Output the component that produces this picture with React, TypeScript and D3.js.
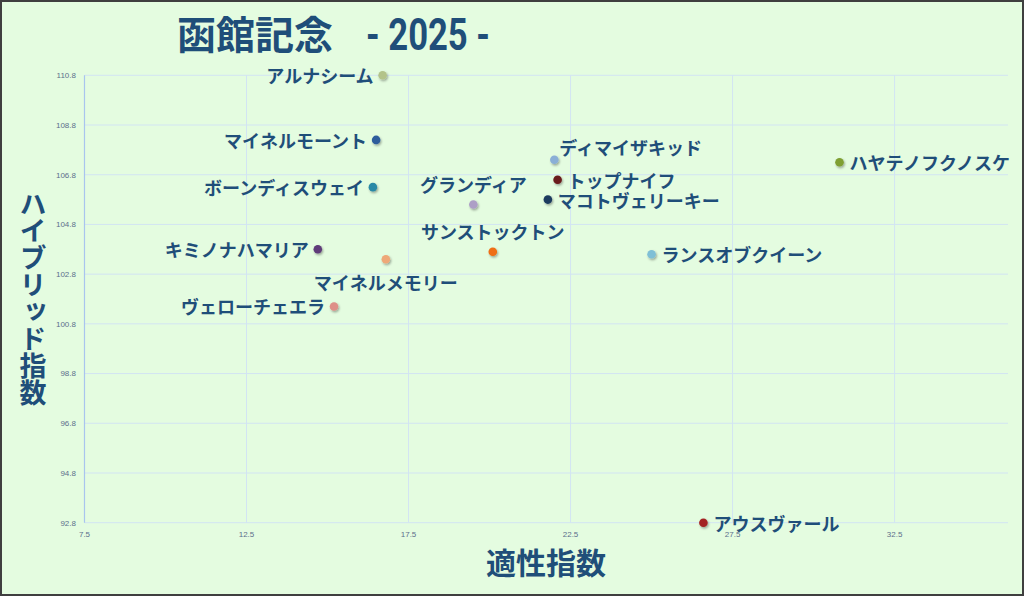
import React from 'react';
import * as d3 from 'd3';

const W = 1024;
const H = 596;

// horses: [name, 適性指数, ハイブリッド指数]
const names = [
    'アルナシーム',
    'マイネルモーント',
    'ボーンディスウェイ',
    'キミノナハマリア',
    'マイネルメモリー',
    'ヴェローチェエラ',
    'グランディア',
    'サンストックトン',
    'ディマイザキッド',
    'トップナイフ',
    'マコトヴェリーキー',
    'ランスオブクイーン',
    'ハヤテノフクノスケ',
    'アウスヴァール',
];
const aptitude = [16.7, 16.5, 16.4, 14.7, 16.8, 15.2, 19.5, 20.1, 22.0, 22.1, 21.8, 25.0, 30.8, 26.6];
const hybrid = [110.8, 108.2, 106.3, 103.8, 103.4, 101.5, 105.6, 103.7, 107.4, 106.6, 105.8, 103.6, 107.3, 92.8];
const dotColors = [
    '#b3c38a',
    '#2d5d9c',
    '#2b89a6',
    '#5e3b79',
    '#eea878',
    '#de8f88',
    '#ad9fc6',
    '#ef6e12',
    '#8aafd6',
    '#6b1a1a',
    '#1b3a5f',
    '#7fbfd6',
    '#7f9f32',
    '#a32222',
];
// where the label sits relative to its dot
const labelSide = [
    'left', 'left', 'left', 'left', 'below', 'left', 'above',
    'above', 'aboveRight', 'right', 'right', 'right', 'right', 'right',
];

const xTicks = [7.5, 12.5, 17.5, 22.5, 27.5, 32.5];
const yTicks = [92.8, 94.8, 96.8, 98.8, 100.8, 102.8, 104.8, 106.8, 108.8, 110.8];

const LABEL_FONT = '"Noto Sans CJK JP", "Noto Sans", sans-serif';
const BLUE = '#1f4e79';

const x = d3.scaleLinear([7.5, 36], [84.5, 1008]);
const y = d3.scaleLinear([92.8, 110.8], [522.7, 75.3]);

const labelAttrs = (side: string, px: number, py: number) => {
    switch (side) {
        case 'left':
            return { x: px - 9, y: py, anchor: 'end' };
        case 'above':
            return { x: px, y: py - 21, anchor: 'middle' };
        case 'below':
            return { x: px, y: py + 23, anchor: 'middle' };
        case 'aboveRight':
            return { x: px + 5, y: py - 13, anchor: 'start' };
        default:
            return { x: px + 10, y: py, anchor: 'start' };
    }
};

const App = () => {
    return (
        <svg
            width={W}
            height={H}
            style={{ position: 'absolute', left: 0, top: 0, display: 'block' }}
        >
            <defs>
                <filter id='dotShadow' x='-50%' y='-50%' width='200%' height='200%'>
                    <feDropShadow dx={1} dy={1.5} stdDeviation={0.9} floodColor='#000' floodOpacity={0.35} />
                </filter>
            </defs>
            <rect x={1} y={1} width={W - 2} height={H - 2} fill='#e4fce0' stroke='#3f3f3f' strokeWidth={2} />

            {/* grid */}
            {yTicks.map(t => (
                <line key={'gy' + t} x1={x(7.5)} x2={x(36)} y1={y(t)} y2={y(t)} stroke='#d2e4f3' strokeWidth={1} />
            ))}
            {xTicks.slice(1).map(t => (
                <line key={'gx' + t} x1={x(t)} x2={x(t)} y1={y(110.8)} y2={y(92.8)} stroke='#d2e4f3' strokeWidth={1} />
            ))}
            <line x1={x(7.5)} x2={x(7.5)} y1={y(110.8)} y2={y(92.8)} stroke='#a9c5ee' strokeWidth={1.2} />

            {/* tick labels */}
            {yTicks.map(t => (
                <text
                    key={'ty' + t}
                    x={76}
                    y={y(t)}
                    dy='0.35em'
                    textAnchor='end'
                    fontSize={8}
                    fontFamily='"Liberation Sans", Arial, sans-serif'
                    fill='#5c6f8c'
                >
                    {t.toFixed(1)}
                </text>
            ))}
            {xTicks.map(t => (
                <text
                    key={'tx' + t}
                    x={x(t)}
                    y={534}
                    dy='0.35em'
                    textAnchor='middle'
                    fontSize={8}
                    fontFamily='"Liberation Sans", Arial, sans-serif'
                    fill='#5c6f8c'
                >
                    {t.toFixed(1)}
                </text>
            ))}

            {/* points */}
            {names.map((n, i) => (
                <circle
                    key={'p' + n}
                    cx={x(aptitude[i])}
                    cy={y(hybrid[i])}
                    r={4.3}
                    fill={dotColors[i]}
                    filter='url(#dotShadow)'
                />
            ))}
            {names.map((n, i) => {
                const a = labelAttrs(labelSide[i], x(aptitude[i]), y(hybrid[i]));
                return (
                    <text
                        key={'l' + n}
                        x={a.x}
                        y={a.y}
                        dominantBaseline='central'
                        textAnchor={a.anchor}
                        fontSize={18}
                        fontWeight='bold'
                        fontFamily={LABEL_FONT}
                        fill={BLUE}
                    >
                        {n}
                    </text>
                );
            })}

            {/* titles */}
            <text x={177} y={49} fontSize={39} fontWeight='bold' fontFamily={LABEL_FONT} fill={BLUE}>
                函館記念
            </text>
            <text
                x={366}
                y={50}
                fontSize={44}
                fontWeight='bold'
                fontFamily='Roboto, "DejaVu Sans", sans-serif'
                fill={BLUE}
                textLength={124}
                lengthAdjust='spacingAndGlyphs'
            >
                - 2025 -
            </text>
            <text
                x={546}
                y={574}
                textAnchor='middle'
                fontSize={30}
                fontWeight='bold'
                fontFamily={LABEL_FONT}
                fill={BLUE}
            >
                適性指数
            </text>
            <text
                x={33}
                y={298}
                textAnchor='middle'
                dominantBaseline='central'
                fontSize={27}
                fontWeight='bold'
                fontFamily={LABEL_FONT}
                fill={BLUE}
                style={{ writingMode: 'vertical-rl' }}
            >
                ハイブリッド指数
            </text>
        </svg>
    );
};

export default App;
